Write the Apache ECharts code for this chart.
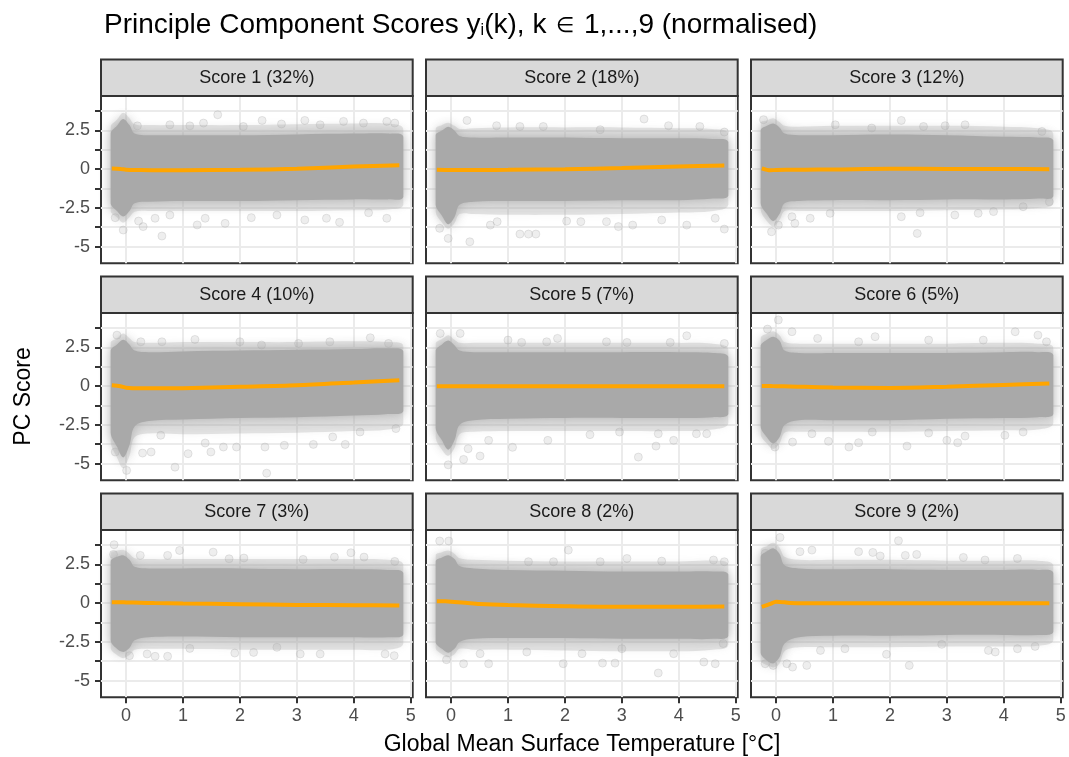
<!DOCTYPE html>
<html>
<head>
<meta charset="utf-8">
<script src="https://cdn.jsdelivr.net/npm/echarts@6/dist/echarts.min.js"></script>
<style>
  html, body { margin: 0; padding: 0; background: #ffffff; }
  #chart { width: 1069px; height: 757px; }
</style>
</head>
<body>
<div id="chart"></div>
<script>
// ---- data -------------------------------------------------------------
const PANEL_TITLES = [
  'Score 1 (32%)', 'Score 2 (18%)', 'Score 3 (12%)',
  'Score 4 (10%)', 'Score 5 (7%)', 'Score 6 (5%)',
  'Score 7 (3%)', 'Score 8 (2%)', 'Score 9 (2%)'
];

const X_TICKS = [0, 1, 2, 3, 4, 5];
const Y_TICKS = [-5, -3.75, -2.5, -1.25, 0, 1.25, 2.5, 3.75];
const Y_LABELS = [-5, -2.5, 0, 2.5];

// temperature positions at which the extent of each score cloud is given
const BAND_X = [-0.27, -0.16, -0.05, 0.06, 0.15, 0.4, 1, 2, 3, 4, 4.6, 4.87];

// outer (sparse) extent of the point cloud, upper edge
const HALO_HI = [
  [2.75, 3.2, 3.65, 3.3, 2.9, 2.85, 2.85, 2.85, 2.9, 2.95, 2.95, 2.6],
  [2.6, 2.85, 3.0, 2.8, 2.6, 2.65, 2.7, 2.7, 2.7, 2.65, 2.6, 2.3],
  [3.0, 3.15, 3.3, 3.05, 2.8, 2.75, 2.8, 2.8, 2.8, 2.75, 2.65, 2.3],
  [2.8, 3.1, 3.4, 3.1, 2.85, 2.8, 2.85, 2.85, 2.85, 2.9, 2.85, 2.6],
  [2.75, 3.05, 3.3, 3.0, 2.8, 2.8, 2.8, 2.8, 2.8, 2.8, 2.75, 2.4],
  [3.1, 3.4, 3.55, 3.3, 2.85, 2.75, 2.75, 2.75, 2.75, 2.8, 2.75, 2.5],
  [3.2, 3.4, 3.45, 3.2, 2.9, 2.85, 2.85, 2.85, 2.85, 2.85, 2.8, 2.5],
  [3.1, 3.3, 3.4, 3.2, 2.9, 2.8, 2.75, 2.7, 2.7, 2.7, 2.75, 2.5],
  [3.45, 3.7, 3.9, 3.6, 3.0, 2.8, 2.8, 2.8, 2.75, 2.75, 2.75, 2.45]
];
// dense core of the point cloud, upper edge
const CORE_HI = [
  [2.3, 2.8, 3.25, 2.85, 2.3, 2.2, 2.2, 2.2, 2.25, 2.3, 2.3, 2.1],
  [2.2, 2.5, 2.75, 2.5, 2.15, 2.05, 2.05, 2.05, 2.0, 2.0, 1.95, 1.75],
  [2.5, 2.8, 2.95, 2.7, 2.3, 2.2, 2.2, 2.25, 2.2, 2.1, 2.05, 1.85],
  [2.3, 2.7, 3.0, 2.7, 2.3, 2.2, 2.25, 2.3, 2.35, 2.4, 2.45, 2.25],
  [2.3, 2.7, 2.95, 2.65, 2.3, 2.2, 2.2, 2.2, 2.2, 2.2, 2.15, 1.9],
  [2.6, 3.0, 3.2, 2.95, 2.3, 2.15, 2.15, 2.15, 2.15, 2.2, 2.2, 2.0],
  [2.7, 3.0, 3.1, 2.8, 2.35, 2.25, 2.25, 2.25, 2.2, 2.2, 2.15, 1.95],
  [2.7, 2.95, 3.1, 2.85, 2.4, 2.25, 2.15, 2.1, 2.05, 2.05, 2.05, 1.85],
  [3.0, 3.35, 3.55, 3.2, 2.45, 2.25, 2.2, 2.2, 2.15, 2.15, 2.15, 1.95]
];
// dense core of the point cloud, lower edge
const CORE_LO = [
  [-2.2, -2.7, -3.05, -2.7, -2.2, -2.1, -2.05, -2.05, -2.0, -1.95, -1.95, -1.8],
  [-2.3, -3.0, -3.55, -3.1, -2.3, -2.1, -2.05, -2.05, -2.0, -2.0, -1.9, -1.7],
  [-2.2, -2.9, -3.35, -2.9, -2.2, -2.05, -2.0, -2.0, -1.95, -1.95, -1.9, -1.75],
  [-3.0, -3.9, -4.6, -3.8, -2.6, -2.25, -2.15, -2.05, -2.0, -1.9, -1.8, -1.6],
  [-2.7, -3.5, -4.1, -3.5, -2.5, -2.2, -2.1, -2.05, -2.05, -2.05, -2.0, -1.8],
  [-2.6, -3.3, -3.7, -3.3, -2.5, -2.2, -2.2, -2.2, -2.1, -2.05, -2.0, -1.8],
  [-2.4, -2.95, -3.15, -2.9, -2.4, -2.2, -2.15, -2.2, -2.2, -2.2, -2.2, -2.0],
  [-2.5, -2.95, -3.2, -2.95, -2.5, -2.3, -2.25, -2.25, -2.3, -2.3, -2.3, -2.1],
  [-3.2, -3.7, -3.9, -3.5, -2.6, -2.2, -2.1, -2.1, -2.05, -2.05, -2.05, -1.85]
];
// outer (sparse) extent of the point cloud, lower edge
const HALO_LO = [
  [-2.7, -3.1, -3.45, -3.1, -2.75, -2.7, -2.7, -2.7, -2.7, -2.65, -2.6, -2.3],
  [-2.75, -3.45, -3.85, -3.5, -2.9, -2.9, -2.95, -2.95, -2.9, -2.8, -2.7, -2.3],
  [-2.6, -3.35, -3.7, -3.3, -2.7, -2.7, -2.7, -2.7, -2.65, -2.6, -2.5, -2.2],
  [-3.6, -4.6, -5.3, -4.5, -3.3, -3.05, -3.1, -3.05, -3.0, -2.9, -2.8, -2.4],
  [-3.3, -4.1, -4.5, -4.0, -3.1, -2.95, -2.9, -2.9, -2.9, -2.9, -2.8, -2.4],
  [-3.1, -3.7, -4.05, -3.7, -3.0, -2.95, -2.95, -2.95, -2.9, -2.85, -2.8, -2.4],
  [-2.9, -3.35, -3.55, -3.35, -3.0, -2.95, -2.95, -3.0, -3.0, -3.0, -3.0, -2.6],
  [-2.9, -3.3, -3.5, -3.3, -2.95, -3.0, -3.0, -3.05, -3.1, -3.1, -3.0, -2.7],
  [-3.7, -4.0, -4.15, -3.9, -3.1, -2.85, -2.85, -2.85, -2.8, -2.8, -2.75, -2.4]
];

// isolated scores lying outside the main cloud
const OUTLIERS = [
  [[1.61,3.52],[0.63,-4.32],[-0.05,-3.93],[0.30,-3.71],[1.74,-3.5],[1.25,-3.6],[2.2,-3.13],[3.14,-3.28],[3.75,-3.43],[4.26,-2.81],[0.22,-3.35],[-0.19,-3.13],[2.39,3.15],[3.14,3.15],[0.77,2.87],[0.2,2.8],[4.58,3.09],[1.12,2.8],[1.36,2.98],[2.06,2.76],[2.73,2.92],[3.41,2.87],[3.82,3.09],[4.17,2.98],[4.72,2.98],[1.39,-3.17],[0.51,-3.17],[2.65,-2.96],[3.52,-3.17],[4.58,-3.17],[0.77,-2.96]],
  [[0.28,3.15],[0.33,-4.69],[1.21,-4.19],[1.36,-4.19],[1.49,-4.19],[-0.05,-4.47],[-0.2,-3.82],[3.39,3.24],[4.37,2.76],[4.8,2.4],[4.8,-3.87],[2.94,-3.71],[3.19,-3.61],[4.14,-3.61],[4.64,-3.17],[0.81,-3.39],[2.03,-3.35],[2.28,-3.39],[2.73,-3.39],[1.62,2.76],[1.21,2.76],[0.8,2.81],[2.62,2.55],[3.82,2.81],[0.69,-3.61],[3.7,-3.28]],
  [[2.2,3.15],[1.04,2.87],[-0.22,3.2],[2.48,-4.15],[-0.08,-4.04],[0.33,-3.5],[0.28,-3.07],[2.2,-3.07],[3.14,-2.96],[3.55,-2.85],[3.82,-2.74],[4.34,-2.42],[4.8,-2.1],[3.32,2.87],[2.59,2.76],[4.67,2.44],[0.6,-3.17],[0.95,-2.85],[2.53,-2.81],[0.04,-3.61],[1.68,2.66],[2.97,2.81]],
  [[2.47,-5.62],[0.86,-5.23],[0.01,-5.44],[-0.19,-4.25],[0.29,-4.32],[0.44,-4.25],[1.09,-4.36],[1.49,-4.25],[1.71,-3.93],[1.94,-3.93],[2.44,-3.93],[2.78,-3.82],[3.29,-3.76],[3.63,-3.28],[3.85,-3.76],[4.11,-2.96],[4.74,-2.74],[1.39,-3.67],[0.61,-3.17],[4.29,3.13],[1.21,3.02],[0.63,2.87],[0.26,2.87],[-0.16,3.3],[2.0,2.87],[3.58,2.87],[3.03,2.76],[2.38,2.66],[4.61,2.76]],
  [[-0.19,3.41],[0.16,3.41],[1.0,2.98],[1.24,2.83],[1.68,2.87],[1.87,3.09],[2.73,2.87],[3.09,2.83],[3.85,2.83],[4.14,3.26],[4.8,2.76],[-0.05,-5.08],[0.22,-4.73],[0.51,-4.51],[0.3,-4.04],[1.08,-3.95],[1.7,-3.5],[3.29,-4.58],[3.6,-3.87],[3.91,-3.5],[4.49,-3.07],[2.44,-3.13],[0.66,-3.5],[2.96,-2.96],[3.64,-3.07],[4.31,-3.07]],
  [[0.04,4.28],[-0.15,3.69],[0.28,3.52],[0.73,3.09],[1.45,2.87],[1.74,3.2],[2.68,2.98],[3.64,2.98],[4.2,3.52],[4.6,3.3],[4.75,2.87],[-0.02,-3.93],[0.29,-3.61],[0.92,-3.56],[1.28,-3.93],[1.45,-3.65],[2.3,-3.87],[3.0,-3.5],[3.19,-3.65],[3.32,-3.22],[4.02,-3.17],[4.34,-2.96],[1.69,-2.96],[0.63,-3.07],[2.68,-3.02]],
  [[-0.21,3.78],[-0.22,3.15],[0.25,3.09],[0.73,3.09],[0.94,3.41],[1.53,3.3],[1.81,2.87],[2.07,2.92],[3.11,2.83],[3.66,2.98],[3.95,3.26],[4.18,2.98],[4.72,2.7],[0.06,-3.39],[0.37,-3.28],[0.51,-3.43],[0.73,-3.43],[1.91,-3.22],[2.24,-3.18],[3.06,-3.28],[3.41,-3.28],[4.55,-3.28],[4.71,-3.39],[1.12,-2.92],[2.65,-2.85]],
  [[-0.2,4.02],[-0.04,4.02],[2.06,3.43],[1.36,2.68],[1.8,2.68],[2.62,2.68],[3.09,2.89],[3.7,2.72],[4.61,2.79],[4.8,2.68],[3.64,-4.51],[2.66,-3.87],[2.88,-3.87],[1.97,-3.91],[0.66,-3.91],[0.22,-3.91],[-0.08,-3.65],[4.44,-3.8],[4.64,-3.91],[3.0,-2.94],[1.33,-3.15],[2.3,-3.26],[3.91,-3.26],[4.78,-2.61],[0.51,-3.26]],
  [[0.07,4.25],[-0.19,3.22],[0.42,3.33],[0.63,3.43],[1.45,3.33],[1.7,3.28],[1.83,3.05],[2.15,4.04],[2.27,3.09],[2.47,3.15],[3.29,2.96],[3.67,2.79],[4.24,2.89],[-0.19,-3.91],[-0.05,-4.02],[0.29,-4.13],[0.54,-4.02],[0.19,-3.91],[0.78,-3.05],[1.21,-2.94],[1.94,-3.3],[2.34,-4.02],[3.73,-3.05],[3.85,-3.15],[4.24,-2.94],[4.55,-2.79],[2.91,-2.66]]
];

// smoothed trend of each score against temperature
const SMOOTH_X = [-0.25, -0.1, 0, 0.25, 0.5, 1, 2, 3, 4, 4.8];
const SMOOTH_Y = [
  [0.04, 0.02, -0.03, -0.05, -0.06, -0.06, -0.04, 0.03, 0.17, 0.26],
  [-0.04, -0.05, -0.05, -0.05, -0.05, -0.04, 0.0, 0.08, 0.17, 0.24],
  [0.06, -0.07, -0.05, -0.04, -0.03, -0.02, 0.03, 0.02, 0.01, 0.0],
  [0.06, 0.0, -0.1, -0.14, -0.14, -0.13, -0.04, 0.06, 0.24, 0.39],
  [0.0, 0.0, 0.0, 0.0, 0.0, 0.0, 0.0, 0.0, 0.0, 0.0],
  [0.02, 0.01, 0.0, -0.02, -0.04, -0.08, -0.11, -0.03, 0.08, 0.17],
  [0.06, 0.06, 0.05, 0.03, 0.01, -0.02, -0.06, -0.11, -0.13, -0.15],
  [0.13, 0.12, 0.1, 0.03, -0.05, -0.12, -0.19, -0.23, -0.23, -0.22],
  [-0.24, -0.05, 0.1, 0.02, 0.0, 0.0, 0.0, 0.0, 0.0, 0.0]
];

// ---- layout -----------------------------------------------------------
const FONT = '"Liberation Sans", Arial, Helvetica, sans-serif';
const PANEL_LEFT0 = 101, COL_STEP = 325, PANEL_W = 311.7;
const PANEL_TOP0 = 96, ROW_STEP = 217, PANEL_H = 167.3;
const STRIP_H = 36.5;
const X_RANGE = [-0.44, 5.035];
const Y_RANGE = [-6.08, 4.73];
const CLOUD = '169,169,169';

const chart = echarts.init(document.getElementById('chart'), null, { renderer: 'canvas' });

function bandRenderer(rows, style) {
  // draws the whole envelope once, as a single closed, rounded polygon
  return function (params, api) {
    if (params.dataIndex !== 0) return null;
    const upper = rows.map(r => api.coord([r[0], r[2]]));
    const lower = rows.slice().reverse().map(r => api.coord([r[0], r[1]]));
    const pts = upper.concat(lower);
    // keep the bezier control points inside the outline's bounding box
    const xs = pts.map(p => p[0]), ys = pts.map(p => p[1]);
    const box = [
      [Math.min.apply(null, xs), Math.min.apply(null, ys)],
      [Math.max.apply(null, xs), Math.max.apply(null, ys)]
    ];
    return {
      type: 'polygon',
      shape: { points: pts, smooth: 0.35, smoothConstraint: box },
      style: style
    };
  };
}

const grids = [], xAxes = [], yAxes = [], series = [], graphics = [];

PANEL_TITLES.forEach((title, i) => {
  const row = Math.floor(i / 3), col = i % 3;
  const left = PANEL_LEFT0 + col * COL_STEP;
  const top = PANEL_TOP0 + row * ROW_STEP;

  grids.push({
    left: left, top: top, width: PANEL_W, height: PANEL_H,
    show: true, backgroundColor: '#ffffff',
    borderColor: '#333333', borderWidth: 2, containLabel: false
  });

  xAxes.push({
    type: 'value', gridIndex: i, min: X_RANGE[0], max: X_RANGE[1],
    axisLine: { show: false, onZero: false },
    axisTick: {
      show: row === 2, customValues: X_TICKS, length: 6,
      lineStyle: { color: '#333333', width: 2 }
    },
    axisLabel: {
      show: row === 2, customValues: X_TICKS, margin: 10,
      fontFamily: FONT, fontSize: 18, color: '#4D4D4D'
    },
    splitLine: { show: true, lineStyle: { color: '#EBEBEB', width: 2 } }
  });

  yAxes.push({
    type: 'value', gridIndex: i, min: Y_RANGE[0], max: Y_RANGE[1],
    axisLine: { show: false, onZero: false },
    axisTick: {
      show: col === 0, customValues: Y_TICKS, length: 6,
      lineStyle: { color: '#333333', width: 2 }
    },
    axisLabel: {
      show: col === 0, customValues: Y_LABELS, margin: 11,
      fontFamily: FONT, fontSize: 18, color: '#4D4D4D'
    },
    splitLine: { show: true, lineStyle: { color: '#EBEBEB', width: 2 } }
  });

  const haloRows = BAND_X.map((x, k) => [x, HALO_LO[i][k], HALO_HI[i][k]]);
  const coreRows = BAND_X.map((x, k) => [x, CORE_LO[i][k], CORE_HI[i][k]]);

  series.push({
    type: 'custom', xAxisIndex: i, yAxisIndex: i, silent: true, z: 2,
    data: haloRows, encode: { x: 0, y: [1, 2] },
    renderItem: bandRenderer(haloRows, {
      fill: 'rgba(' + CLOUD + ',0.3)',
      shadowBlur: 7, shadowColor: 'rgba(' + CLOUD + ',0.35)'
    })
  });
  series.push({
    type: 'scatter', xAxisIndex: i, yAxisIndex: i, silent: true, z: 3,
    symbol: 'circle', symbolSize: 8,
    itemStyle: {
      color: 'rgba(' + CLOUD + ',0.24)',
      borderColor: 'rgba(' + CLOUD + ',0.34)', borderWidth: 1
    },
    data: OUTLIERS[i]
  });
  series.push({
    type: 'custom', xAxisIndex: i, yAxisIndex: i, silent: true, z: 4,
    data: coreRows, encode: { x: 0, y: [1, 2] },
    renderItem: bandRenderer(coreRows, {
      fill: 'rgb(' + CLOUD + ')',
      shadowBlur: 12, shadowColor: 'rgba(' + CLOUD + ',0.9)'
    })
  });
  series.push({
    type: 'line', xAxisIndex: i, yAxisIndex: i, silent: true, z: 5,
    showSymbol: false, symbol: 'none', smooth: 0.3,
    lineStyle: { color: '#FFA500', width: 4 },
    data: SMOOTH_X.map((x, k) => [x, SMOOTH_Y[i][k]])
  });

  // facet strip
  graphics.push({
    type: 'rect', silent: true, z: 10,
    shape: { x: left, y: top - STRIP_H, width: PANEL_W, height: STRIP_H },
    style: { fill: '#D9D9D9', stroke: '#333333', lineWidth: 2 }
  });
  graphics.push({
    type: 'text', silent: true, z: 11,
    x: left + PANEL_W / 2, y: top - STRIP_H / 2,
    style: {
      text: title, fontFamily: FONT, fontSize: 18, fill: '#1A1A1A',
      align: 'center', verticalAlign: 'middle'
    }
  });
});

// axis titles
graphics.push({
  type: 'text', silent: true, z: 11,
  x: 24, y: 396.5, rotation: Math.PI / 2,
  style: {
    text: 'PC Score', fontFamily: FONT, fontSize: 23, fill: '#000000',
    align: 'center', verticalAlign: 'middle'
  }
});
graphics.push({
  type: 'text', silent: true, z: 11,
  x: 582, y: 745,
  style: {
    text: 'Global Mean Surface Temperature [°C]', fontFamily: FONT, fontSize: 23,
    fill: '#000000', align: 'center', verticalAlign: 'middle'
  }
});

chart.setOption({
  animation: false,
  backgroundColor: '#ffffff',
  title: {
    text: 'Principle Component Scores y{sub|i}(k), k {sym|∈} 1,...,9 (normalised)',
    left: 99, top: 6,
    textStyle: {
      fontFamily: FONT, fontSize: 28, fontWeight: 'normal', color: '#000000',
      rich: {
        sub: { fontFamily: FONT, fontSize: 16, verticalAlign: 'bottom', padding: [6, 0, 0, 0] },
        sym: { fontFamily: FONT, fontSize: 21, verticalAlign: 'bottom', padding: [0, 2, 2, 2] }
      }
    }
  },
  grid: grids,
  xAxis: xAxes,
  yAxis: yAxes,
  series: series,
  graphic: graphics
});
</script>
</body>
</html>
